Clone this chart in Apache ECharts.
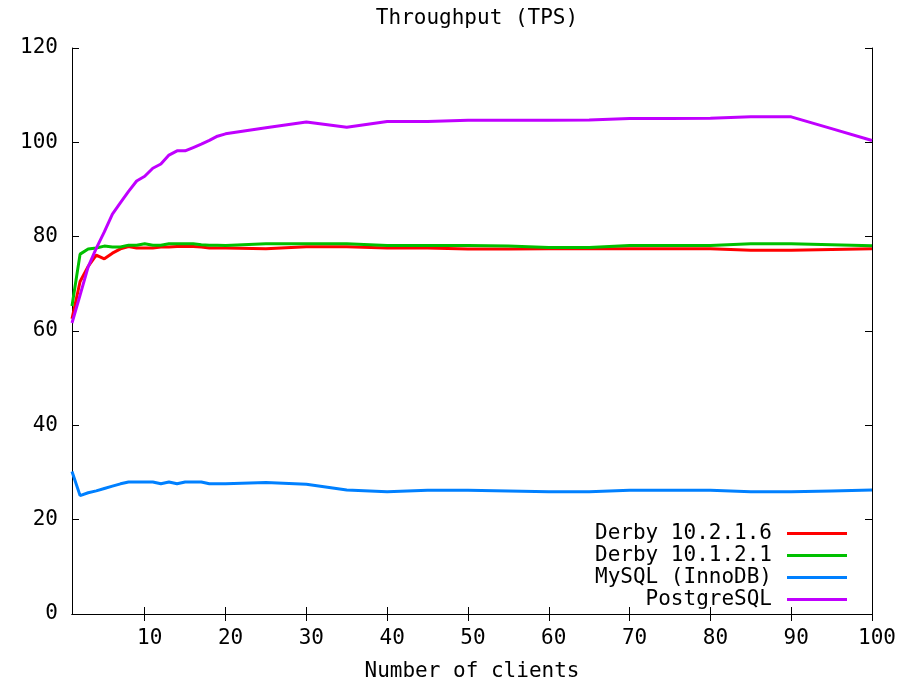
<!DOCTYPE html>
<html>
<head>
<meta charset="utf-8">
<title>Throughput (TPS)</title>
<script src="https://cdn.jsdelivr.net/npm/echarts@6/dist/echarts.min.js"></script>
<style>
html, body { margin: 0; padding: 0; background: #fff; }
#mychart { width: 904px; height: 681px; }
</style>
</head>
<body>
<div id="mychart"></div>
<script>
// number of clients (x values)
var clients = [1, 2, 3, 4, 5, 6, 7, 8, 9, 10, 11, 12, 13, 14, 15, 16, 17, 18, 19, 20,
    25, 30, 35, 40, 45, 50, 55, 60, 65, 70, 75, 80, 85, 90, 95, 100];

var derby1216 = [62.6, 70.5, 73.7, 76.1, 75.3, 76.5, 77.4, 77.9, 77.6, 77.6, 77.6, 77.8, 77.8, 77.9, 77.9, 77.9, 77.8, 77.6, 77.6, 77.6,
    77.45, 77.85, 77.85, 77.6, 77.6, 77.4, 77.4, 77.45, 77.45, 77.45, 77.45, 77.45, 77.1, 77.1, 77.3, 77.45];
var derby1121 = [65.3, 76.3, 77.4, 77.6, 78.0, 77.8, 77.8, 78.2, 78.2, 78.5, 78.2, 78.2, 78.5, 78.5, 78.5, 78.5, 78.3, 78.2, 78.2, 78.15,
    78.5, 78.5, 78.5, 78.15, 78.15, 78.15, 78.0, 77.7, 77.7, 78.15, 78.15, 78.15, 78.5, 78.5, 78.3, 78.1];
var mysql = [30.2, 25.1, 25.7, 26.1, 26.6, 27.1, 27.6, 28.0, 28.0, 28.0, 28.0, 27.6, 28.0, 27.6, 28.0, 28.0, 28.0, 27.6, 27.6, 27.6,
    27.9, 27.5, 26.3, 25.9, 26.25, 26.25, 26.1, 25.9, 25.9, 26.25, 26.25, 26.25, 25.9, 25.9, 26.1, 26.3];
var postgres = [61.7, 67.6, 73.6, 77.5, 81.0, 84.8, 87.2, 89.6, 91.8, 92.8, 94.5, 95.4, 97.3, 98.2, 98.2, 98.9, 99.6, 100.4, 101.3, 101.8,
    103.1, 104.3, 103.2, 104.4, 104.4, 104.7, 104.7, 104.7, 104.75, 105.05, 105.05, 105.1, 105.4, 105.4, 102.9, 100.4];

var xTicks = [10, 20, 30, 40, 50, 60, 70, 80, 90, 100];
var seriesNames = ['Derby 10.2.1.6', 'Derby 10.1.2.1', 'MySQL (InnoDB)', 'PostgreSQL'];

var font = 'DejaVu Sans Mono';
var fontSize = 21;

function pairs(values) {
    return clients.map(function (c, i) { return [c, values[i]]; });
}

function makeLine(name, values, color) {
    return {
        name: name,
        type: 'line',
        symbol: 'none',
        color: color,
        lineStyle: { width: 3, color: color },
        animation: false,
        data: pairs(values)
    };
}

var myEcharts = echarts.init(document.getElementById('mychart'));

var option = {
    backgroundColor: '#fff',
    animation: false,
    title: {
        text: 'Throughput (TPS)',
        left: 472,
        textAlign: 'center',
        top: 3,
        textStyle: { fontFamily: font, fontSize: fontSize, fontWeight: 'normal', color: '#000' }
    },
    legend: {
        orient: 'vertical',
        right: 52,
        top: 518,
        align: 'right',
        icon: 'rect',
        itemWidth: 60,
        itemHeight: 3,
        itemGap: 1,
        selectedMode: false,
        textStyle: { fontFamily: font, fontSize: fontSize, color: '#000', width: 184, align: 'right', padding: [0, 10, 0, 0] },
        data: seriesNames
    },
    grid: {
        left: 72,
        right: 32,
        top: 48,
        bottom: 67,
        outerBoundsMode: 'none'
    },
    xAxis: [
        {
            type: 'value',
            min: 1,
            max: 100,
            name: 'Number of clients',
            nameLocation: 'middle',
            nameGap: 47,
            nameTextStyle: { fontFamily: font, fontSize: fontSize, color: '#000' },
            axisLine: { lineStyle: { color: '#000', width: 1 } },
            axisTick: { inside: true, length: 7, customValues: xTicks, lineStyle: { color: '#000' } },
            axisLabel: { customValues: xTicks, margin: 14, padding: [0, 0, 0, 10], fontFamily: font, fontSize: fontSize, color: '#000' },
            splitLine: { show: false }
        },
        {
            type: 'value',
            position: 'top',
            min: 1,
            max: 100,
            axisLine: { lineStyle: { color: '#000', width: 1 } },
            axisTick: { inside: true, length: 7, customValues: xTicks, lineStyle: { color: '#000' } },
            axisLabel: { show: false },
            splitLine: { show: false }
        }
    ],
    yAxis: [
        {
            type: 'value',
            min: 0,
            max: 120,
            interval: 20,
            axisLine: { show: true, lineStyle: { color: '#000', width: 1 } },
            axisTick: { show: true, inside: true, length: 7, lineStyle: { color: '#000' } },
            axisLabel: { margin: 14, fontFamily: font, fontSize: fontSize, color: '#000' },
            splitLine: { show: false }
        },
        {
            type: 'value',
            position: 'right',
            min: 0,
            max: 120,
            interval: 20,
            axisLine: { show: true, lineStyle: { color: '#000', width: 1 } },
            axisTick: { show: true, inside: true, length: 7, lineStyle: { color: '#000' } },
            axisLabel: { show: false },
            splitLine: { show: false }
        }
    ],
    series: [
        makeLine(seriesNames[0], derby1216, '#ff0000'),
        makeLine(seriesNames[1], derby1121, '#00c000'),
        makeLine(seriesNames[2], mysql, '#0080ff'),
        makeLine(seriesNames[3], postgres, '#c000ff')
    ]
};

myEcharts.setOption(option);
</script>
</body>
</html>
